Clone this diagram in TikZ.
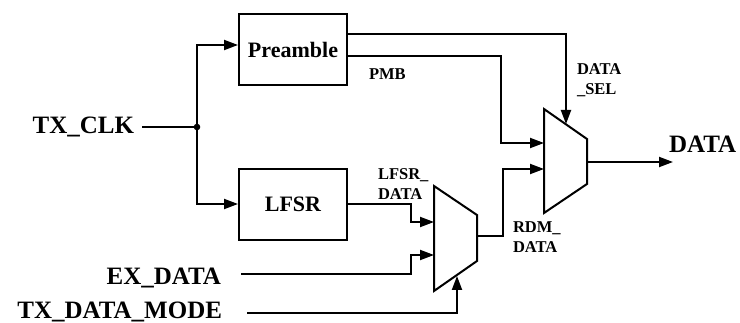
\documentclass[tikz,border=0pt]{standalone}
\usepackage{fontspec}
\setmainfont{Liberation Serif}[BoldFont={Liberation Serif Bold}]
\usetikzlibrary{arrows.meta}
\begin{document}
\begin{tikzpicture}[x=1pt,y=-1pt,line width=2pt,
  arr/.style={-{Triangle[length=14pt,width=10pt]}},
  blk/.style={draw,line width=2pt,minimum width=108pt,minimum height=71pt,inner sep=0pt,
    font=\fontsize{22}{24}\selectfont\bfseries},
  big/.style={font=\fontsize{25}{28}\selectfont\bfseries,inner sep=0pt},
  small/.style={font=\fontsize{16.5}{19.5}\selectfont\bfseries,inner sep=0pt,align=left},
  muxshape/.style={draw,line width=2pt,line join=miter}]
\useasboundingbox (0,0) rectangle (740,323);

% functional blocks
\node[blk] (pre)  at (293,49.5)  {Preamble};
\node[blk] (lfsr) at (293,204.5) {LFSR};

% multiplexer outlines and ports
\coordinate (m1a) at (434,186); \coordinate (m1b) at (477,215);
\coordinate (m1c) at (477,261); \coordinate (m1d) at (434,291);
\coordinate (m2a) at (544,109); \coordinate (m2b) at (587,139);
\coordinate (m2c) at (587,184); \coordinate (m2d) at (544,213);
\draw[muxshape] (m1a) -- (m1b) -- (m1c) -- (m1d) -- cycle;
\draw[muxshape] (m2a) -- (m2b) -- (m2c) -- (m2d) -- cycle;
\coordinate (m1in1) at (434,222); \coordinate (m1in2) at (434,255);
\coordinate (m1sel) at (457,276); \coordinate (m1out) at (477,236);
\coordinate (m2in1) at (544,143); \coordinate (m2in2) at (544,169);
\coordinate (m2sel) at (566,124); \coordinate (m2out) at (587,162);

% signal names
\node[big,anchor=base east] (clk)  at (135,134) {TX\_CLK};
\node[big,anchor=base east] (ex)   at (222,285) {EX\_DATA};
\node[big,anchor=base east] (mode) at (223,319) {TX\_DATA\_MODE};
\node[big,anchor=base west] (data) at (668,153) {DATA};
\node[small,anchor=base west] (pmb) at (368,80) {PMB};
\node[small,anchor=north west] (sel)  at (576,63)  {DATA\\\_SEL};
\node[small,anchor=north west] (lfd)  at (377,168) {LFSR\_\\DATA};
\node[small,anchor=north west] (rdm)  at (512,221) {RDM\_\\DATA};

% clock distribution
\coordinate (j) at (197,127);
\draw ([xshift=7pt]clk.east |- j) -- (j);
\fill (j) circle (3.3pt);
\draw[arr] (j) |- (pre.west |- 0,45);
\draw[arr] (j) |- (lfsr.west |- 0,204);

% preamble outputs
\draw[arr] (pre.east |- 0,34) -| (m2sel);
\draw[arr] (pre.east |- 0,56) -| (501,143) -- (m2in1);

% random data path
\draw[arr] (lfsr.east |- 0,204) -| (411,222) -- (m1in1);
\draw[arr] ([xshift=19pt]ex.east |- 0,274) -| (411,255) -- (m1in2);
\draw[arr] ([xshift=24pt]mode.east |- 0,313) -| (m1sel);
\draw[arr] (m1out) -| (503,169) -- (m2in2);
\draw[arr] (m2out) -- (673,162);
\end{tikzpicture}
\end{document}
